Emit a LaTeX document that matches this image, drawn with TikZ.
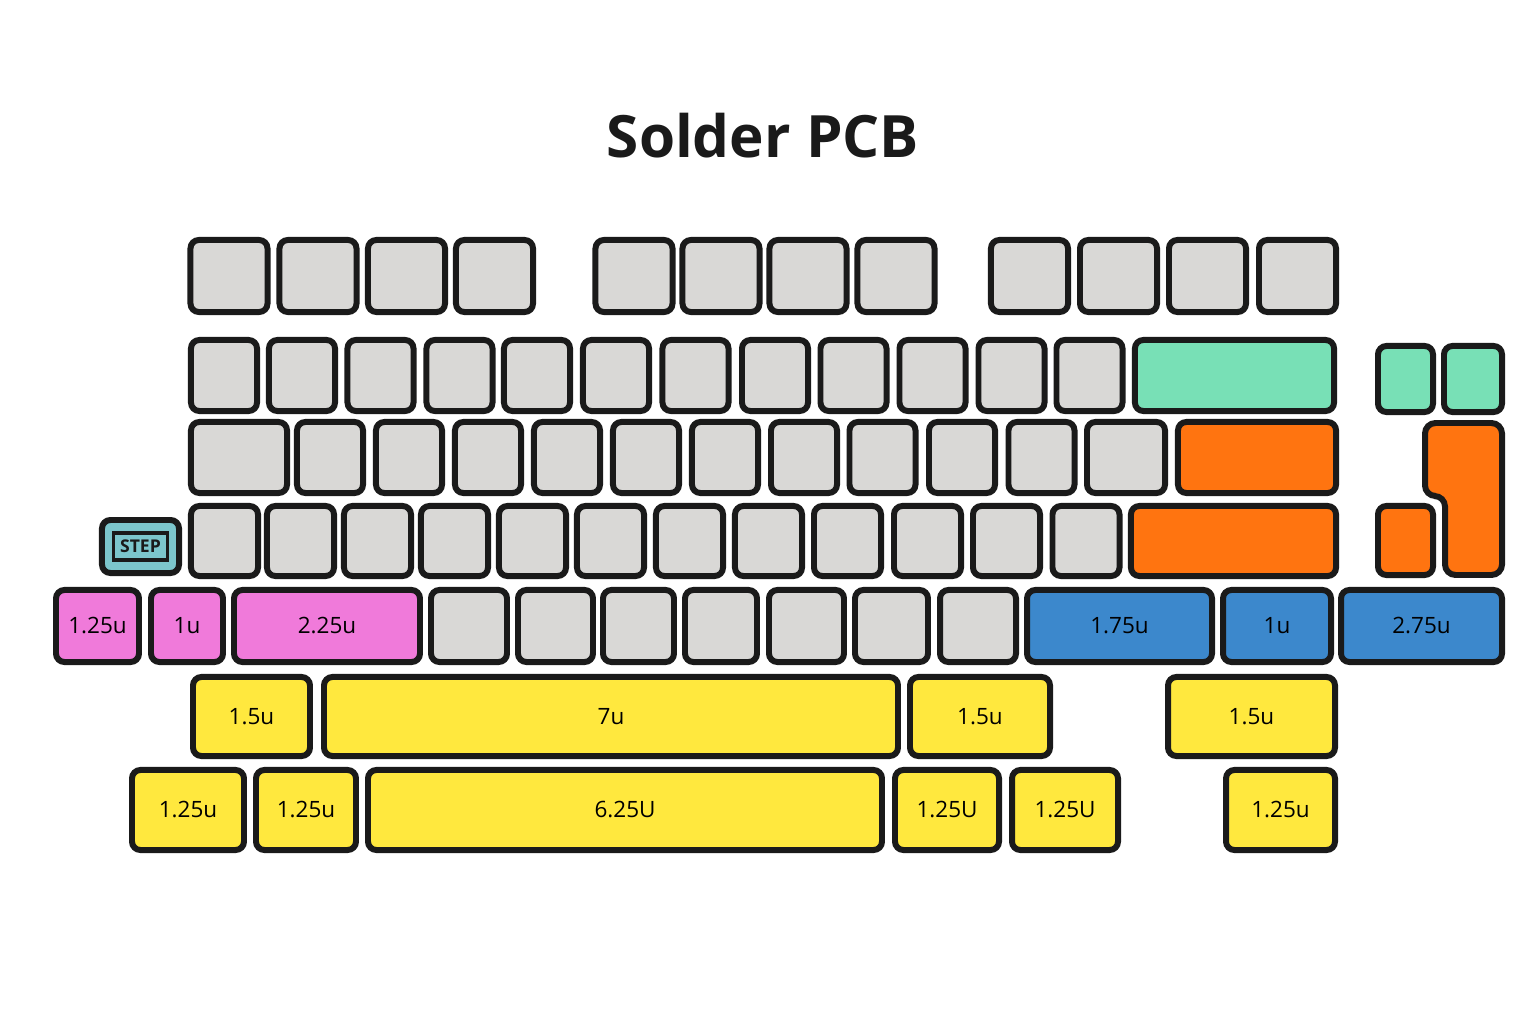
\documentclass[tikz,border=0pt]{standalone}
\usepackage{fontspec}
\setmainfont{Open Sans}
\usetikzlibrary{positioning}
\definecolor{keygray}{HTML}{D9D8D6}
\definecolor{keygreen}{HTML}{78E0B6}
\definecolor{keyorange}{HTML}{FF7410}
\definecolor{keypink}{HTML}{F07ADA}
\definecolor{keyblue}{HTML}{3C88CC}
\definecolor{keyyellow}{HTML}{FFE83E}
\definecolor{keyteal}{HTML}{7CC6CC}
\definecolor{outline}{HTML}{1A1A1A}
\tikzstyle{keycap}=[rectangle,draw=outline,line width=1.7pt,rounded corners=2.4pt,inner sep=0pt,outer sep=0pt,text=black,font=\fontsize{6.4}{8}\selectfont]
\tikzstyle{graykey}=[keycap,fill=keygray]
\tikzstyle{greenkey}=[keycap,fill=keygreen]
\tikzstyle{orangekey}=[keycap,fill=keyorange]
\tikzstyle{pinkkey}=[keycap,fill=keypink]
\tikzstyle{bluekey}=[keycap,fill=keyblue]
\tikzstyle{yellowkey}=[keycap,fill=keyyellow]
\tikzstyle{stepkey}=[keycap,fill=keyteal]
\tikzstyle{steptag}=[rectangle,draw=outline,line width=1pt,fill=keyteal,inner sep=0pt,minimum width=0.54cm,minimum height=0.27cm,font=\fontsize{5}{5}\selectfont\bfseries,text=outline]
\begin{document}
\begin{tikzpicture}[x=0.01cm,y=-0.01cm]
\useasboundingbox (0,0) rectangle (1536,1024);

    % Title
    \node[font=\fontsize{16.6}{20}\selectfont\bfseries,text=outline] (title) at (763,136) {Solder PCB};

    % Function row
    \def\ry{276};
    \foreach \x/\name in {229/f1, 318/f2, 406.5/f3, 494.5/f4, 634/f5, 721/f6, 808/f7, 896/f8, 1029.5/f9, 1118.5/f10, 1207.5/f11, 1297.5/f12}
        \node[graykey, minimum width=0.77cm, minimum height=0.72cm] (\name) at (\x,\ry) {};

    % Number row
    \def\ry{375.5};
    \foreach \x/\name in {224/n1, 302/n2, 380.5/n3, 459.5/n4, 537/n5, 616/n6, 695.5/n7, 775/n8, 853.5/n9, 932.5/n10, 1011.5/n11, 1089.5/n12}
        \node[graykey, minimum width=0.66cm, minimum height=0.71cm] (\name) at (\x,\ry) {};
    \node[greenkey, minimum width=1.99cm, minimum height=0.71cm] (backspace) at (1234.5,\ry) {};
    \node[greenkey, minimum width=0.55cm, minimum height=0.66cm] (gr1) at (1405.5,379) {};
    \node[greenkey, minimum width=0.58cm, minimum height=0.66cm] (gr2) at (1473,379) {};

    % Top letter row
    \def\ry{457.5};
    \node[graykey, minimum width=0.96cm, minimum height=0.71cm] (tab) at (239,\ry) {};
    \foreach \x/\name in {330/q1, 409/q2, 488/q3, 567/q4, 646/q5, 725/q6, 804/q7, 882.5/q8, 962/q9, 1041.5/q10}
        \node[graykey, minimum width=0.66cm, minimum height=0.71cm] (\name) at (\x,\ry) {};
    \node[graykey, minimum width=0.78cm, minimum height=0.71cm] (q11) at (1126,\ry) {};
    \node[orangekey, minimum width=1.58cm, minimum height=0.71cm] (ansi) at (1257,\ry) {};

    % Home row
    \def\ry{541};
    \node[stepkey, minimum width=0.77cm, minimum height=0.53cm] (caps) at (140.5,546.5) {};
    \node[steptag] (captag) at (caps.center) {STEP};
    \foreach \x/\name in {224.5/a1, 300.5/a2, 377.5/a3, 454.5/a4, 532.5/a5, 610.5/a6, 689.5/a7, 768.5/a8, 847.5/a9, 927.5/a10, 1006.5/a11, 1086/a12}
        \node[graykey, minimum width=0.67cm, minimum height=0.70cm] (\name) at (\x,\ry) {};
    \node[orangekey, minimum width=2.05cm, minimum height=0.70cm] (enter) at (1233.5,\ry) {};
    \node[orangekey, minimum width=0.55cm, minimum height=0.69cm] (iso1) at (1405.5,540.5) {};
    % ISO enter
    \draw[fill=keyorange, draw=outline, line width=1.7pt, rounded corners=3pt]
        (1425,423) -- (1502,423) -- (1502,575) -- (1445,575) -- (1445,496) -- (1425,496) -- cycle;

    % Shift row
    \def\ry{626};
    \foreach \x/\w/\name/\label in {97.5/83/ls1/1.25u, 187/72/ls2/1u, 327/186/ls3/2.25u}
        \node[pinkkey, minimum width=\w*0.01cm, minimum height=0.72cm] (\name) at (\x,\ry) {\label};
    \foreach \x/\w/\name in {469/76/z1, 555.5/75/z2, 638.5/71/z3, 721/72/z4, 806.5/75/z5, 891.5/73/z6, 978/76/z7}
        \node[graykey, minimum width=\w*0.01cm, minimum height=0.72cm] (\name) at (\x,\ry) {};
    \foreach \x/\w/\name/\label in {1119.5/185/rs1/1.75u, 1277/108/rs2/1u, 1421.5/161/rs3/2.75u}
        \node[bluekey, minimum width=\w*0.01cm, minimum height=0.72cm] (\name) at (\x,\ry) {\label};

    % Bottom rows
    \def\ry{716.5};
    \foreach \x/\w/\name/\label in {251.5/117/b1/1.5u, 611/574/b2/7u, 980/140/b3/1.5u, 1251.5/167/b4/1.5u}
        \node[yellowkey, minimum width=\w*0.01cm, minimum height=0.79cm] (\name) at (\x,\ry) {\label};
    \def\ry{810};
    \foreach \x/\w/\name/\label in {188/112/c1/1.25u, 306/100/c2/1.25u, 625/514/c3/6.25U, 947/104/c4/1.25U, 1065/106/c5/1.25U, 1280.5/109/c6/1.25u}
        \node[yellowkey, minimum width=\w*0.01cm, minimum height=0.80cm] (\name) at (\x,\ry) {\label};

\end{tikzpicture}
\end{document}
